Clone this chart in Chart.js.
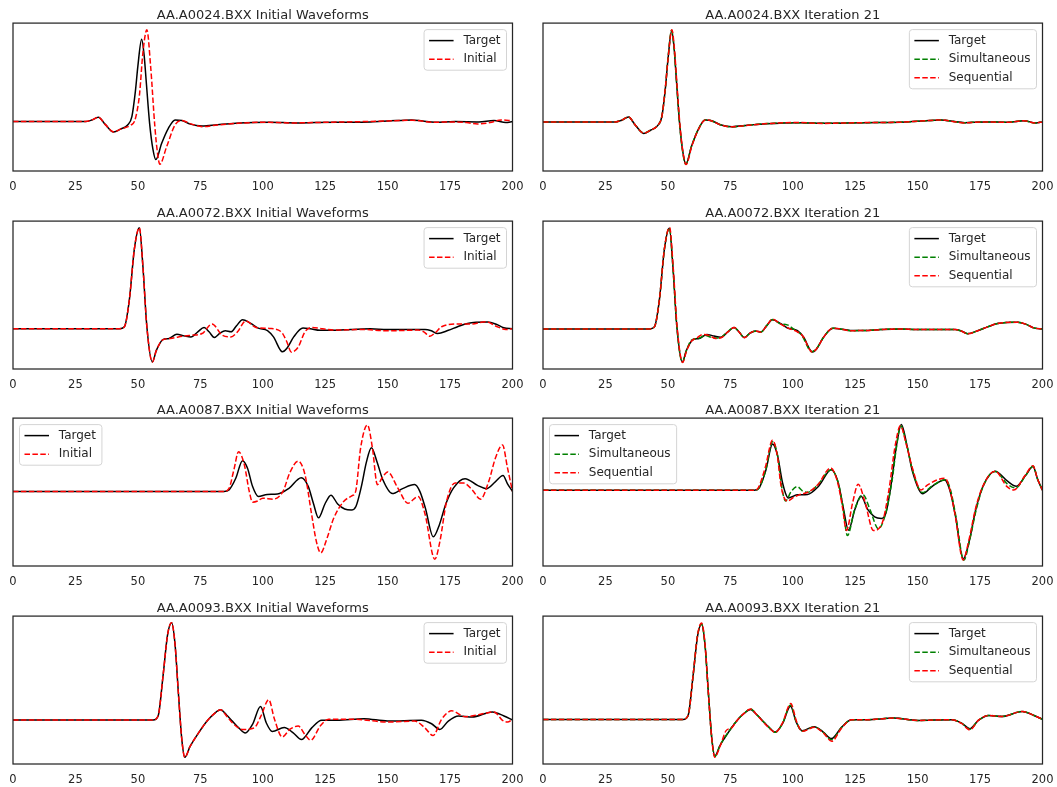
<!DOCTYPE html>
<html>
<head>
<meta charset="utf-8">
<script src="https://cdn.jsdelivr.net/npm/chart.js@4.4.0/dist/chart.umd.min.js"></script>
<style>
  body { margin: 0; background: #fff; }
  #page { position: relative; width: 1057px; height: 787px; background: #fff; }
  #page canvas { position: absolute; }
</style>
</head>
<body>
<div id="page"></div>
<script>
// station names and x ticks
const stations = ['AA.A0024.BXX', 'AA.A0072.BXX', 'AA.A0087.BXX', 'AA.A0093.BXX'];
const xTicks = [0, 25, 50, 75, 100, 125, 150, 175, 200];

// waveforms as [time, amplitude] pairs
const target24 = [[0,0],[29,0],[31.5,1.5],[34.2,4.3],[37,-3],[40.3,-10.3],[43,-7.5],[45.9,-3.3],[47.6,5],[49,30],[50,55],[51.5,81.7],[52.5,66],[53.4,38],[54.7,-1.7],[56,-27],[57.2,-37.7],[59.5,-21.7],[62.2,-6.7],[64.9,1.7],[67.6,1],[71,-2.5],[75.7,-4.3],[82,-3],[89.2,-1.7],[102.7,-0.7],[113.5,-1.3],[121,-1],[129.7,-0.7],[143.2,-0.3],[150,0.5],[159.5,1.7],[164,0.5],[168.9,-0.7],[177,0],[186.5,-0.3],[192.6,1],[197.3,-1],[200,0]];
const initial24 = [[0,0],[29,0],[31.5,1.5],[34.2,4.3],[37,-3],[40.3,-10.3],[43,-7.5],[47.3,-3.3],[48.6,0],[49.8,12],[50.7,28],[52,68],[53.6,91],[55.1,55],[56.8,-5],[57.8,-30],[58.8,-42.3],[61.5,-25],[64.9,-3.3],[67.6,1],[71,-2],[75.7,-5],[82,-3.3],[90,-1.7],[100,-0.7],[112,-1.3],[125,-0.7],[140,0],[150,0.7],[160,1.3],[168.5,-0.7],[175,-0.3],[181.6,-1],[186,-2.3],[191,-1],[195.5,1.7],[200,0.7]];
const simult24 = [[0,0],[29,0],[31.5,1.5],[34.2,4.5],[37,-3],[40.3,-10],[43,-7.5],[45.9,-3.3],[47.6,5],[49,30],[50,56],[51.5,82],[52.5,66],[53.4,38],[54.7,-2],[56,-28],[57.2,-38],[59.5,-21.5],[62.2,-6.5],[64.9,1.8],[67.6,0.8],[71,-2.5],[75.5,-4.5],[82,-3],[90,-1.5],[102,-0.7],[112,-1.3],[120,-1],[130,-0.7],[143,-0.3],[150,0.5],[159.5,1.7],[164,0.5],[168.5,-0.8],[175,0],[186,-0.3],[192.5,1],[197,-1],[200,0]];
const seqnt24 = [[0,0],[29,0],[31.5,1.5],[34.2,4.4],[37,-3],[40.3,-10.2],[43,-7.5],[45.9,-3.2],[47.6,5],[49,31],[50.1,57],[51.6,82.5],[52.6,66],[53.5,38],[54.8,-2],[56.1,-28],[57.3,-38.2],[59.6,-21.5],[62.3,-6.5],[65,1.8],[67.6,0.8],[71,-2.6],[75.6,-4.4],[82,-3],[90,-1.5],[102,-0.6],[112,-1.4],[120,-1],[130,-0.6],[143,-0.3],[150,0.6],[159.5,1.8],[164,0.4],[168.5,-0.9],[175,0],[186,-0.4],[192.5,1.1],[197,-1],[200,0]];

const target72 = [[0,0],[42.6,0],[44.6,2],[46.6,28.7],[48.6,78.7],[50.6,99.5],[52,62],[53.6,2],[55.8,-32.7],[57.4,-21.3],[60,-10.7],[62.5,-9.5],[65.6,-5.5],[68.5,-7],[71.2,-8.2],[74,-3],[76.5,1.3],[78.5,-3],[80.6,-8.5],[83,-4],[85,-2],[87.3,-3],[89.5,3],[91.9,9],[95,5.5],[98.2,0.7],[101.9,-1.7],[104.3,-8],[107.9,-22.7],[109.6,-19.5],[112.4,-8],[116.1,0.7],[119,0],[123,-1.5],[130,-1.5],[135,-0.7],[143,0],[150,-0.7],[157,-0.7],[165,-0.7],[167.5,-2],[170,-4.7],[174.3,-1.5],[178,2],[182,5.3],[190,6.7],[193.5,4.5],[196.5,1],[200,0]];
const initial72 = [[0,0],[42.6,0],[44.6,2],[46.6,28.7],[48.6,78.7],[50.6,99.5],[52,62],[53.6,2],[55.8,-32.7],[57.4,-21.3],[60.1,-10.7],[63,-9.5],[66.2,-8],[71.6,-6.3],[75.7,-4.7],[79.7,4.7],[83.8,-6.3],[87.2,-8],[89.9,-3],[93.2,7.7],[97.3,1.3],[102.7,0.3],[107.4,-3],[109.5,-12],[111.5,-23],[114.2,-18],[116.9,-3],[119.6,1.3],[124,0],[128.4,-1.3],[140,-0.7],[150,-2],[162.2,-1.3],[164.5,-3],[166.9,-7.3],[169,-4],[171.6,2],[178.4,4.7],[183.8,4.7],[189.2,7],[193.9,2],[197.3,-0.7],[200,0]];
const simult72 = [[0,0],[42.6,0],[44.6,2],[46.6,28.5],[48.6,78.5],[50.6,99.7],[52,62],[53.6,2],[55.8,-33],[57.4,-21.5],[59.5,-11],[62,-9.5],[65,-6.5],[67.5,-8.5],[70.5,-9],[73,-5],[76.5,1.3],[78.5,-3],[80.6,-8.5],[83,-4],[85,-2.3],[87.3,-3],[89.5,3],[91.9,9.3],[95,5],[97.8,4],[100.5,-0.5],[103.5,-6],[107.6,-22.5],[109.5,-19.5],[112.4,-8],[116.1,0.7],[119,0],[123,-1.7],[130,-1.5],[135,-0.7],[143,0],[150,-0.7],[157,-0.7],[165,-0.7],[167.5,-2],[170,-4.7],[174.3,-1.5],[178,2],[182,5.3],[190,6.7],[193.5,4.5],[196.5,1],[200,0]];
const seqnt72 = [[0,0],[42.6,0],[44.6,2],[46.6,28.7],[48.6,79],[50.7,100.3],[52.1,62],[53.7,2],[55.9,-33.2],[57.5,-21.5],[59.5,-12],[61.5,-9],[64,-5.5],[66.5,-6.5],[69,-9.5],[71.5,-8.5],[74,-3],[76.5,1.3],[78.5,-3],[80.6,-8.7],[83,-4],[85,-2],[87.3,-3.2],[89.5,3],[91.9,9.7],[95,5],[98,1],[101.5,-2.5],[104,-7],[107.8,-22.8],[109.6,-19.5],[112.4,-8],[116.1,0.7],[119,0],[123,-1.7],[130,-1.5],[135,-0.7],[143,0],[150,-0.7],[157,-0.7],[165,-0.7],[167.5,-2],[170,-4.9],[174.3,-1.5],[178,2],[182,5.3],[190,6.7],[193.5,4.5],[196.5,1],[200,0]];

const target87 = [[0,0],[84.5,0],[86.5,1.5],[89.2,13],[91.9,30.5],[93.9,23],[95.9,5],[98.2,-5],[101.8,-3],[105.9,-2.7],[110.5,3],[115.4,13.5],[118.2,5],[120.3,-12],[122.3,-26.2],[124.9,-12.5],[127.3,-3.8],[130,-12.5],[132.8,-17.5],[135.5,-18.5],[137.3,-15],[139.5,5],[141.5,29],[143.5,43.3],[145.8,29],[148,12],[151.9,-2.2],[156,2.8],[160.8,6.8],[162.9,0],[165.1,-16.5],[168.3,-45.1],[170.6,-34],[173.3,-12.5],[176.4,3.5],[181,12.6],[186,6],[189.5,2.7],[193.2,9.7],[196.2,15.7],[198,7.5],[200,0]];
const initial87 = [[0,0],[84.5,0],[86.5,3],[88.5,22],[90.3,39.3],[92.6,26.7],[94.6,0],[95.9,-10.7],[98,-9.5],[100,-6.7],[104.1,-7.7],[108.1,0],[110.8,18.3],[114.2,30],[116.9,16.7],[119.6,-23.3],[121.5,-50],[123.2,-61],[125.7,-46.7],[128.4,-26.7],[132.4,-10],[135.8,-4.3],[137.2,0],[139.2,43.3],[141.9,66],[143.9,43.3],[145.9,6.7],[147.7,13],[150,19.3],[154.1,3.3],[158.1,-11.7],[162.2,-5],[164.9,-21.7],[168.9,-67.3],[170.9,-50],[173.6,-10],[177,8.3],[180.4,8.3],[183.8,1.7],[187.2,-7.7],[190.5,10],[193.2,33.3],[196,46],[198,23.3],[200,0]];
const simult87 = [[0,0],[84.5,0],[86.5,1.5],[89.2,13.5],[91.9,32],[93.9,23],[95.5,3],[97.1,-7.1],[99.3,-1],[101.8,2.4],[104,-0.5],[106,-1.3],[110,3.6],[115.4,13.6],[118.2,5],[120,-10],[121.9,-29.8],[124.8,-12.5],[128.2,-3.1],[131,-13],[134.3,-25.3],[137,-16.4],[139.7,5.8],[141.5,28],[143.2,42.4],[145.6,30],[148,13],[151.9,-1.5],[156,3.1],[161.2,7],[163.2,0],[165.3,-17],[168.5,-46],[170.8,-33],[173.5,-12.5],[176.3,2.8],[181,12.4],[186,4],[189.3,1.5],[193.2,9.7],[196.3,15.8],[198,7.5],[200,0]];
const seqnt87 = [[0,0],[84.5,0],[86.3,2],[89,15],[91.9,32.9],[93.8,23],[95.4,2],[97.8,-7.1],[100.5,-4.5],[102.5,-3],[106,-1.3],[110,3.6],[115.2,14.7],[118,5],[119.8,-10],[121.5,-26.4],[124,-8],[126.2,4],[128.9,-7.6],[132.3,-26.4],[135.7,-22],[138.4,-0.9],[141.1,30.2],[143.1,42.4],[145.5,30],[147.9,14.7],[151.3,0.2],[154,3.6],[161,8],[163,0],[165.1,-17],[168.2,-45.8],[170.5,-33],[173.2,-12],[176.2,3],[181,12.6],[185.8,2.4],[188.5,0.2],[193,9.7],[196.2,16.2],[198,7.5],[200,0]];

const target93 = [[0,0],[56.1,0],[58.1,4],[60.1,44],[61.9,84],[63.5,95.7],[64.9,74],[66.2,27.3],[67.6,-19.3],[68.8,-36.7],[70.9,-26],[74.3,-12.7],[77.7,-1],[80.5,6],[83.1,10],[85.5,5],[87.8,-1],[90.5,-8],[93,-12.7],[95.9,-4.3],[99.1,13.3],[101.4,-2.7],[103.8,-11.3],[108.6,-7.3],[112.2,-12.7],[115.5,-19.3],[119.6,-7.7],[123.6,-0.3],[129.7,-0.3],[140.5,1.3],[150,-1],[163.5,-0.3],[167.6,-3.7],[170.9,-9.3],[174.3,-1],[178.4,4],[183.8,3],[191.9,8],[196.6,4],[200,0]];
const initial93 = [[0,0],[56.1,0],[58.1,4],[60.1,44],[61.9,84],[63.5,95.7],[64.9,74],[66.2,27.3],[67.6,-19.3],[68.8,-36.7],[70.9,-26],[74.3,-12.7],[77.7,-1],[80.5,6],[83.1,10],[85.5,4],[87.8,-2.7],[91.9,-9.3],[96.6,-7.7],[99.3,4],[102.4,20],[104.7,0.7],[107.8,-16.7],[110.8,-9.3],[114.2,-6],[116.9,-14.3],[119.2,-20],[123,-6],[126.4,0.7],[136.5,0.7],[150,-2],[160.8,-1],[164.9,-7.7],[168.2,-15.3],[171.6,0.7],[175.7,9],[181.1,3.3],[189.2,6.7],[192.6,8],[196,-0.3],[198,-2],[200,0.7]];
const simult93 = [[0,0],[56.1,0],[58.1,4],[60.1,44],[61.9,84.5],[63.5,96],[64.9,74],[66.2,27],[67.6,-19.5],[68.8,-37.2],[70.9,-26],[74.3,-12.5],[77.7,-1],[80.5,6],[83.1,10.5],[85.5,5],[87.8,-1],[90.5,-8],[93,-13],[95.9,-4],[99.1,14.5],[101.4,-2.5],[103.8,-11.8],[108.6,-7.5],[112.2,-13],[115.5,-20.5],[119.6,-8],[123.6,-0.3],[129.7,-0.3],[140.5,1.3],[150,-1],[163.5,-0.3],[167.6,-3.7],[170.9,-9.8],[174.3,-1],[178.4,4],[183.8,3],[191.9,8],[196.6,4],[200,0]];
const seqnt93 = [[0,0],[56.1,0],[58.1,4],[60.1,44.5],[61.9,85],[63.5,96.8],[64.9,75],[66.2,27],[67.6,-20],[68.8,-38],[70.9,-27],[73.4,-11],[75.5,-8.5],[77.7,-1],[80.5,6],[83.1,10.5],[85.5,5],[87.8,-1.5],[90.5,-8.5],[93,-13],[95.9,-3.5],[99.2,16],[101.5,-2],[103.8,-12],[108.7,-8],[112.2,-13.5],[115.6,-22],[119.6,-8.5],[123.6,-0.3],[129.7,-0.3],[140.5,1.3],[150,-1],[163.5,-0.3],[167.6,-4],[170.9,-10.5],[174.3,-1],[178.4,4],[183.8,3],[191.9,8],[196.6,4],[200,0]];

// y limits of each panel (left = initial, right = iteration 21)
const yLeft = [[-49, 97.7], [-39.6, 106], [-74, 72.7], [-43.3, 102.3]];
const yRight = [[-44, 88.5], [-39.6, 106.5], [-49.8, 47.5], [-44.8, 103.8]];

const leftSeries = [[target24, initial24], [target72, initial72], [target87, initial87], [target93, initial93]];
const rightSeries = [[target24, simult24, seqnt24], [target72, simult72, seqnt72], [target87, simult87, seqnt87], [target93, simult93, seqnt93]];

const colX = [13, 543];
const rowY = [23, 221, 418, 616];

const styles = {
  Target: { color: '#000000', dash: [] },
  Initial: { color: '#ff0000', dash: [5.5, 2.4] },
  Simultaneous: { color: '#008000', dash: [5.5, 2.4] },
  Sequential: { color: '#ff0000', dash: [5.5, 2.4] }
};

Chart.defaults.font.family = '"DejaVu Sans", sans-serif';
Chart.defaults.color = '#262626';

const frame = {
  id: 'frame',
  afterDatasetsDraw(chart) {
    const { ctx, chartArea: a } = chart;
    ctx.save();
    ctx.strokeStyle = '#262626';
    ctx.lineWidth = 1.25;
    ctx.strokeRect(a.left, a.top, a.right - a.left, a.bottom - a.top);
    ctx.restore();
  }
};

// matplotlib-like legend box inside the axes
const boxLegend = {
  id: 'boxLegend',
  afterDraw(chart, args, opts) {
    const { ctx, chartArea: a } = chart;
    const sets = chart.data.datasets;
    ctx.save();
    ctx.font = '12px "DejaVu Sans"';
    const tw = Math.max(...sets.map(d => ctx.measureText(d.label).width));
    const w = 39.3 + tw + 6;
    const h = 22 + (sets.length - 1) * 18.6;
    const x = opts.side === 'left' ? a.left + 6.5 : a.right - 6 - w;
    const y = a.top + 6.5;
    ctx.beginPath();
    ctx.roundRect(x, y, w, h, 3);
    ctx.fillStyle = 'rgba(255,255,255,0.8)';
    ctx.fill();
    ctx.strokeStyle = '#d4d4d4';
    ctx.lineWidth = 1;
    ctx.stroke();
    sets.forEach((d, i) => {
      const cy = y + 11 + i * 18.6;
      ctx.beginPath();
      ctx.setLineDash(d.borderDash);
      ctx.strokeStyle = d.borderColor;
      ctx.lineWidth = d.borderWidth;
      ctx.moveTo(x + 5, cy);
      ctx.lineTo(x + 29.5, cy);
      ctx.stroke();
      ctx.setLineDash([]);
      ctx.fillStyle = '#262626';
      ctx.textBaseline = 'middle';
      ctx.fillText(d.label, x + 39.3, cy);
    });
    ctx.restore();
  }
};

function panel(col, row, title, labels, series, yr, side) {
  const cv = document.createElement('canvas');
  cv.width = 540;
  cv.height = 198;
  cv.style.left = (colX[col] - 20) + 'px';
  cv.style.top = (rowY[row] - 24) + 'px';
  document.getElementById('page').appendChild(cv);
  new Chart(cv, {
    type: 'line',
    data: {
      datasets: series.map((pts, i) => ({
        label: labels[i],
        data: pts.map(([x, y]) => ({ x, y })),
        borderColor: styles[labels[i]].color,
        borderDash: styles[labels[i]].dash,
        borderWidth: 1.5,
        pointRadius: 0,
        fill: false,
        cubicInterpolationMode: 'monotone',
        order: series.length - i
      }))
    },
    options: {
      responsive: false,
      animation: false,
      devicePixelRatio: 1,
      layout: { padding: { left: 20, right: 20.5, top: 0, bottom: 0 } },
      plugins: {
        legend: { display: false },
        tooltip: { enabled: false },
        title: {
          display: true, text: title, color: '#262626',
          font: { size: 13, weight: 'normal' },
          padding: { top: 8.5, bottom: 0 }
        },
        boxLegend: { side }
      },
      scales: {
        x: {
          type: 'linear', min: xTicks[0], max: xTicks[xTicks.length - 1],
          grid: { display: false }, border: { display: false },
          afterBuildTicks: s => { s.ticks = xTicks.map(v => ({ value: v })); },
          ticks: { color: '#262626', font: { size: 11.5 }, padding: 1, maxRotation: 0, autoSkip: false },
          afterFit: s => { s.height = 26; }
        },
        y: { display: false, min: yr[0], max: yr[1] }
      }
    },
    plugins: [frame, boxLegend]
  });
}

stations.forEach((st, r) => {
  const side = r === 2 ? 'left' : 'right';
  panel(0, r, st + ' Initial Waveforms', ['Target', 'Initial'], leftSeries[r], yLeft[r], side);
  panel(1, r, st + ' Iteration 21', ['Target', 'Simultaneous', 'Sequential'], rightSeries[r], yRight[r], side);
});
</script>
</body>
</html>
